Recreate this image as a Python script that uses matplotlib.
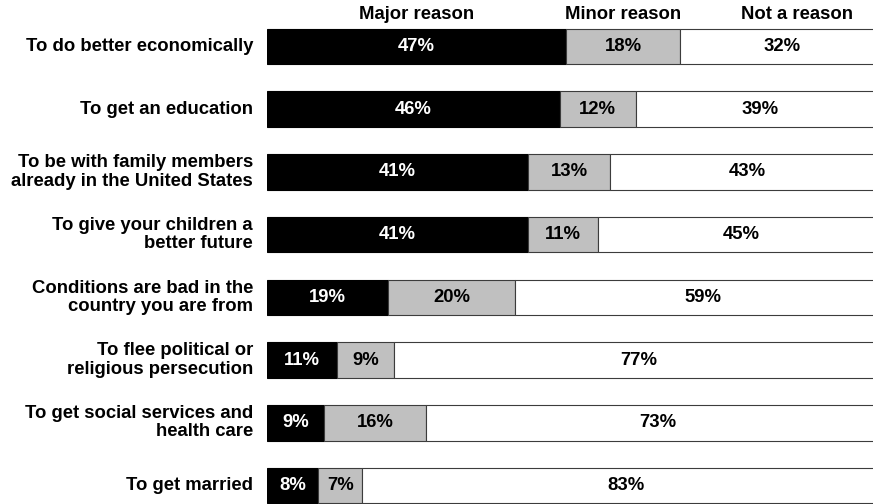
import numpy as np
import matplotlib.pyplot as plt

plt.rcParams['font.family'] = ['Liberation Sans', 'DejaVu Sans']

# Survey data (percent)
reasons = [
    "To do better economically",
    "To get an education",
    "To be with family members\nalready in the United States",
    "To give your children a\nbetter future",
    "Conditions are bad in the\ncountry you are from",
    "To flee political or\nreligious persecution",
    "To get social services and\nhealth care",
    "To get married",
]
major = [47, 46, 41, 41, 19, 11, 9, 8]
minor = [18, 12, 13, 11, 20, 9, 16, 7]
not_reason = [32, 39, 43, 45, 59, 77, 73, 83]
headers = ["Major reason", "Minor reason", "Not a reason"]

W, H = 873, 504
fig = plt.figure(figsize=(W / 100, H / 100), dpi=100)
left_px = 267
ax = fig.add_axes([left_px / W, 0, 1 - left_px / W, 1])

y = np.arange(len(reasons))
major = np.array(major)
minor = np.array(minor)
not_reason = np.array(not_reason)
bh = 0.566
edge = '#3c3c3c'

ax.barh(y, major, height=bh, color='black', edgecolor='black', linewidth=0.8)
ax.barh(y, minor, left=major, height=bh, color='#c0c0c0', edgecolor=edge, linewidth=0.8)
ax.barh(y, not_reason, left=major + minor, height=bh, color='white', edgecolor=edge, linewidth=0.8)

fs = 13.3
for i in y:
    ax.text(major[i] / 2, i, f"{major[i]}%", ha='center', va='center',
            color='white', fontsize=fs, fontweight='bold')
    ax.text(major[i] + minor[i] / 2, i, f"{minor[i]}%", ha='center', va='center',
            color='black', fontsize=fs, fontweight='bold')
    ax.text(major[i] + minor[i] + not_reason[i] / 2, i, f"{not_reason[i]}%",
            ha='center', va='center', color='black', fontsize=fs, fontweight='bold')
    ax.text(-2.2, i, reasons[i], ha='right', va='center', fontsize=fs,
            fontweight='bold', linespacing=1.1)

# column headers over the first bar
hx = [major[0] / 2, major[0] + minor[0] / 2, 83.3]
for x, t in zip(hx, headers):
    ax.text(x, -0.51, t, ha='center', va='center', fontsize=fs, fontweight='bold')

px_per_pct = 6.36
ax.set_xlim(0, (W - left_px) / px_per_pct)
step = 62.71
ax.set_ylim(7 + (H - 485.5) / step, -46.5 / step)
ax.axis('off')

fig.savefig('out.png', dpi=100)
